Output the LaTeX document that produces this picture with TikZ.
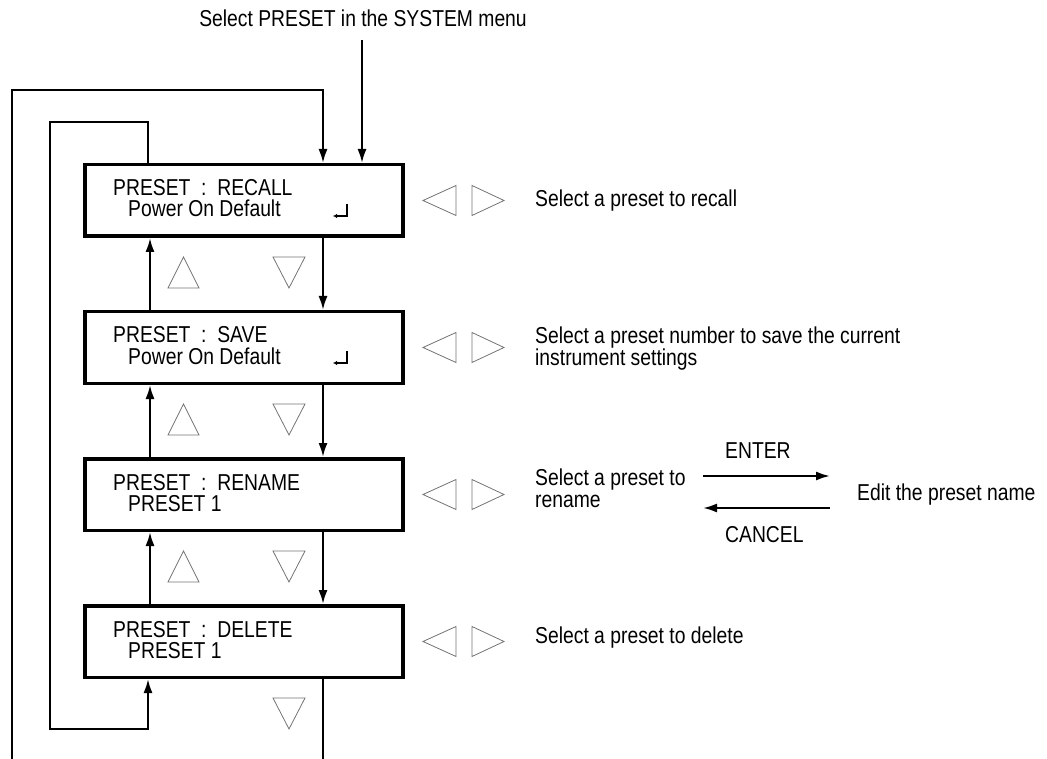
\documentclass[tikz,border=0pt]{standalone}
\usepackage{fontspec}
\setmainfont{Liberation Sans}[FakeStretch=0.84]
\usetikzlibrary{arrows.meta}
\begin{document}
\begin{tikzpicture}[x=1pt,y=-1pt,
  screen/.style={draw,line width=3.5pt,minimum width=318pt,minimum height=71.5pt,inner sep=0pt},
  conn/.style={line width=2.1pt},
  arr/.style={conn,-{Latex[length=14pt,width=9pt]}},
  txt/.style={inner sep=0pt,anchor=base west,font=\fontsize{23}{22}\selectfont},
  ml/.style={txt,align=left},
  tri/.style={draw=black!55,line width=0.8pt},
  ret/.style={line width=1.4pt,-{Latex[length=4pt,width=4.5pt]}}]
\useasboundingbox (0,0) rectangle (1047,759);
% top label and axis coordinates
\node[txt,anchor=base] (start) at (363,27) {Select PRESET in the SYSTEM menu};
\coordinate (in) at (362,40);
\coordinate (ux) at (150,0);
\coordinate (dx) at (323,0);
% screens
\node[screen] (b1) at (244,200.5) {};
\node[screen] (b2) at (244,347.5) {};
\node[screen] (b3) at (244,494.5) {};
\node[screen] (b4) at (244,641.5) {};
\node[txt] (t1a) at (113,196) {PRESET\ \ :\ \ RECALL};
\node[txt] (t1b) at (128,217) {Power On Default};
\node[txt] (t2a) at (113,343) {PRESET\ \ :\ \ SAVE};
\node[txt] (t2b) at (128,364) {Power On Default};
\node[txt] (t3a) at (113,490) {PRESET\ \ :\ \ RENAME};
\node[txt] (t3b) at (128,511) {PRESET 1};
\node[txt] (t4a) at (113,637) {PRESET\ \ :\ \ DELETE};
\node[txt] (t4b) at (128,658) {PRESET 1};
% return symbols
\draw[ret] (347,204) -- (347,216) -- (333,216);
\draw[ret] (347,351) -- (347,363) -- (333,363);
% incoming arrow
\draw[arr] (in) -- (b1.north -| in);
% down arrows
\draw[arr] (b1.south -| dx) -- (b2.north -| dx);
\draw[arr] (b2.south -| dx) -- (b3.north -| dx);
\draw[arr] (b3.south -| dx) -- (b4.north -| dx);
% up arrows
\draw[arr] (b2.north -| ux) -- (b1.south -| ux);
\draw[arr] (b3.north -| ux) -- (b2.south -| ux);
\draw[arr] (b4.north -| ux) -- (b3.south -| ux);
% inner loop (up from RECALL to DELETE)
\draw[arr] (b1.north -| 148,0) -- (148,122) -| (50,729) -| (b4.south -| 148,0);
% outer loop (down from DELETE to RECALL)
\coordinate (bot) at (0,759);
\draw[conn] (b4.south -| dx) -- (bot -| dx);
\draw[arr] (bot -| 12,0) -- (12,90) -| (b1.north -| dx);
% up/down key triangles
\foreach \b in {238,385,532}{
  \draw[tri] (168,\b+50) -- (199,\b+50) -- (183.5,\b+19) -- cycle;
  \draw[tri] (273,\b+19) -- (305,\b+19) -- (289,\b+50) -- cycle;
}
\draw[tri] (273,698) -- (305,698) -- (289,729) -- cycle;
% left/right key triangles
\foreach \c in {200.5,347.5,494.5,641.5}{
  \draw[tri] (423,\c) -- (456,\c-15) -- (456,\c+15) -- cycle;
  \draw[tri] (472,\c-15) -- (504,\c) -- (472,\c+15) -- cycle;
}
% descriptions
\node[txt] (d1) at (535,207) {Select a preset to recall};
\node[ml] (d2) at (535,366) {Select a preset number to save the current\\instrument settings};
\node[ml] (d3) at (535,507) {Select a preset to\\rename};
\node[txt] (d4) at (535,643) {Select a preset to delete};
% rename sub-flow
\node[txt] (edit) at (857,500) {Edit the preset name};
\coordinate (ea) at (703,476);
\coordinate (eb) at (830,476);
\coordinate (ca) at (830,508);
\coordinate (cb) at (703,508);
\draw[arr] (ea) -- (eb);
\draw[arr] (ca) -- (cb);
\node[txt] (enter) at (725,458) {ENTER};
\node[txt] (cancel) at (725,542) {CANCEL};
\end{tikzpicture}
\end{document}
